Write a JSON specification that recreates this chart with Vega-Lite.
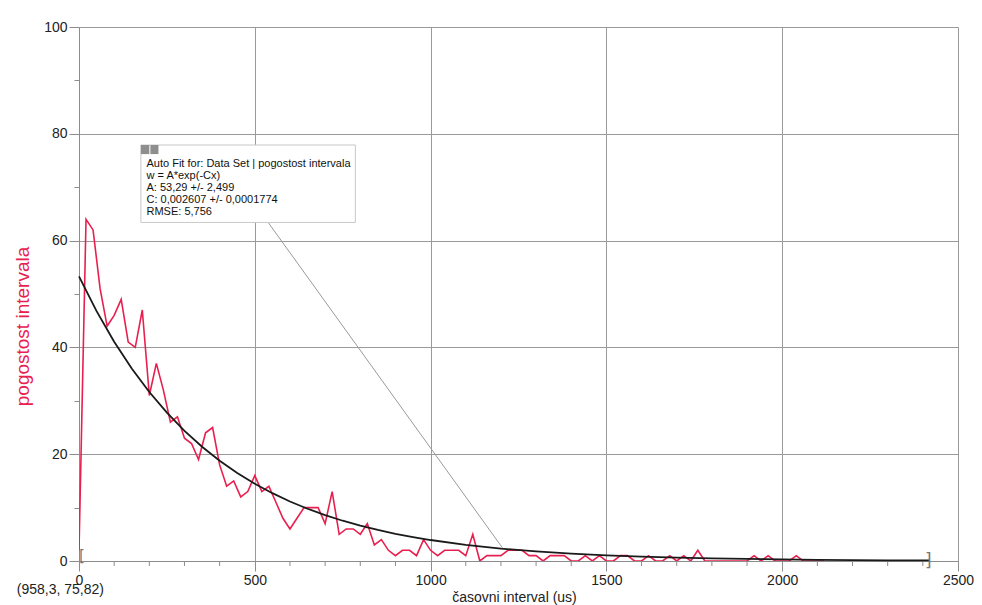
{
  "$schema": "https://vega.github.io/schema/vega-lite/v6.json",
  "autosize": {"type": "none"},
  "width": 879,
  "height": 534,
  "padding": {"left": 79, "top": 27, "right": 24, "bottom": 44},
  "background": "white",
  "config": {
    "view": {"stroke": null},
    "font": "Liberation Sans",
    "axis": {
      "labelFont": "Liberation Sans",
      "labelFontSize": 14,
      "labelColor": "#222222",
      "titleFont": "Liberation Sans",
      "titleFontWeight": "normal",
      "domainColor": "#8c8c8c",
      "tickColor": "#8c8c8c",
      "gridColor": "#9a9a9a",
      "gridWidth": 1,
      "labelPadding": 2,
      "labelOverlap": false
    }
  },
  "datasets": {
    "meas": [
      {"t": 0, "n": 2}, {"t": 20, "n": 64}, {"t": 40, "n": 62}, {"t": 60, "n": 51}, {"t": 80, "n": 44},
      {"t": 100, "n": 46}, {"t": 120, "n": 49}, {"t": 140, "n": 41}, {"t": 160, "n": 40}, {"t": 180, "n": 47},
      {"t": 200, "n": 31}, {"t": 220, "n": 37}, {"t": 240, "n": 32}, {"t": 260, "n": 26}, {"t": 280, "n": 27},
      {"t": 300, "n": 23}, {"t": 320, "n": 22}, {"t": 340, "n": 19}, {"t": 360, "n": 24}, {"t": 380, "n": 25},
      {"t": 400, "n": 18}, {"t": 420, "n": 14}, {"t": 440, "n": 15}, {"t": 460, "n": 12}, {"t": 480, "n": 13},
      {"t": 500, "n": 16}, {"t": 520, "n": 13}, {"t": 540, "n": 14}, {"t": 560, "n": 11}, {"t": 580, "n": 8},
      {"t": 600, "n": 6}, {"t": 620, "n": 8}, {"t": 640, "n": 10}, {"t": 660, "n": 10}, {"t": 680, "n": 10},
      {"t": 700, "n": 7}, {"t": 720, "n": 13}, {"t": 740, "n": 5}, {"t": 760, "n": 6}, {"t": 780, "n": 6},
      {"t": 800, "n": 5}, {"t": 820, "n": 7}, {"t": 840, "n": 3}, {"t": 860, "n": 4}, {"t": 880, "n": 2},
      {"t": 900, "n": 1}, {"t": 920, "n": 2}, {"t": 940, "n": 2}, {"t": 960, "n": 1}, {"t": 980, "n": 4},
      {"t": 1000, "n": 2}, {"t": 1020, "n": 1}, {"t": 1040, "n": 2}, {"t": 1060, "n": 2}, {"t": 1080, "n": 2},
      {"t": 1100, "n": 1}, {"t": 1120, "n": 5}, {"t": 1140, "n": 0}, {"t": 1160, "n": 1}, {"t": 1180, "n": 1},
      {"t": 1200, "n": 1}, {"t": 1220, "n": 2}, {"t": 1240, "n": 2}, {"t": 1260, "n": 2}, {"t": 1280, "n": 1},
      {"t": 1300, "n": 1}, {"t": 1320, "n": 0}, {"t": 1340, "n": 1}, {"t": 1360, "n": 1}, {"t": 1380, "n": 1},
      {"t": 1400, "n": 0}, {"t": 1420, "n": 0}, {"t": 1440, "n": 1}, {"t": 1460, "n": 0}, {"t": 1480, "n": 1},
      {"t": 1500, "n": 0}, {"t": 1520, "n": 0}, {"t": 1540, "n": 1}, {"t": 1560, "n": 1}, {"t": 1580, "n": 0},
      {"t": 1600, "n": 0}, {"t": 1620, "n": 1}, {"t": 1640, "n": 0}, {"t": 1660, "n": 0}, {"t": 1680, "n": 1},
      {"t": 1700, "n": 0}, {"t": 1720, "n": 1}, {"t": 1740, "n": 0}, {"t": 1760, "n": 2}, {"t": 1780, "n": 0},
      {"t": 1800, "n": 0}, {"t": 1820, "n": 0}, {"t": 1840, "n": 0}, {"t": 1860, "n": 0}, {"t": 1880, "n": 0},
      {"t": 1900, "n": 0}, {"t": 1920, "n": 1}, {"t": 1940, "n": 0}, {"t": 1960, "n": 1}, {"t": 1980, "n": 0},
      {"t": 2000, "n": 0}, {"t": 2020, "n": 0}, {"t": 2040, "n": 1}, {"t": 2060, "n": 0}, {"t": 2080, "n": 0},
      {"t": 2100, "n": 0}, {"t": 2120, "n": 0}
    ],
    "fit": [
      {"t": 0, "w": 53.29}, {"t": 50, "w": 46.78}, {"t": 100, "w": 41.06}, {"t": 150, "w": 36.04},
      {"t": 200, "w": 31.64}, {"t": 250, "w": 27.77}, {"t": 300, "w": 24.38}, {"t": 350, "w": 21.40},
      {"t": 400, "w": 18.78}, {"t": 450, "w": 16.49}, {"t": 500, "w": 14.47}, {"t": 550, "w": 12.70},
      {"t": 600, "w": 11.15}, {"t": 650, "w": 9.79}, {"t": 700, "w": 8.59}, {"t": 750, "w": 7.54},
      {"t": 800, "w": 6.62}, {"t": 850, "w": 5.81}, {"t": 900, "w": 5.10}, {"t": 950, "w": 4.48},
      {"t": 1000, "w": 3.93}, {"t": 1100, "w": 3.03}, {"t": 1200, "w": 2.33}, {"t": 1300, "w": 1.80},
      {"t": 1400, "w": 1.39}, {"t": 1500, "w": 1.07}, {"t": 1600, "w": 0.82}, {"t": 1700, "w": 0.63},
      {"t": 1800, "w": 0.49}, {"t": 1900, "w": 0.38}, {"t": 2000, "w": 0.29}, {"t": 2100, "w": 0.22},
      {"t": 2200, "w": 0.17}, {"t": 2300, "w": 0.13}, {"t": 2420, "w": 0.10}
    ],
    "minorx": [
      {"t": 100}, {"t": 200}, {"t": 300}, {"t": 400}, {"t": 600}, {"t": 700}, {"t": 800}, {"t": 900},
      {"t": 1100}, {"t": 1200}, {"t": 1300}, {"t": 1400}, {"t": 1600}, {"t": 1700}, {"t": 1800}, {"t": 1900},
      {"t": 2100}, {"t": 2200}, {"t": 2300}, {"t": 2400}
    ]
  },
  "layer": [
    {
      "data": {"name": "meas"},
      "mark": {"type": "line", "color": "#e8204f", "strokeWidth": 1.6, "clip": true},
      "encoding": {
        "x": {
          "field": "t", "type": "quantitative",
          "scale": {"domain": [0, 2500], "nice": false, "zero": false},
          "axis": {
            "values": [0, 500, 1000, 1500, 2000, 2500],
            "format": "d",
            "tickSize": 10,
            "labelFlush": false,
            "labelOverlap": false,
            "title": "časovni interval (us)",
            "titleFontSize": 14,
            "titleColor": "#222222",
            "titleX": 435,
            "titleY": 36,
            "titleBaseline": "middle",
            "titleAlign": "center"
          }
        },
        "y": {
          "field": "n", "type": "quantitative",
          "scale": {"domain": [0, 100], "nice": false},
          "axis": {
            "values": [0,10,20,30,40,50,60,70,80,90,100],
            "format": "d",
            "labelOpacity": {"condition": {"test": "datum.value % 20 === 0", "value": 1}, "value": 0},
            "tickSize": {"condition": {"test": "datum.value % 20 === 0", "value": 10}, "value": 5},
            "gridOpacity": {"condition": {"test": "datum.value % 20 === 0", "value": 1}, "value": 0},
            "labelFlush": false,
            "labelOverlap": false,
            "title": "pogostost intervala",
            "titleFontSize": 19,
            "titleColor": "#e8204f",
            "titleAngle": -90,
            "titleX": -57,
            "titleY": 299,
            "titleAlign": "center",
            "titleBaseline": "middle"
          }
        }
      }
    },
    {
      "data": {"name": "minorx"},
      "mark": {"type": "rule", "color": "#8c8c8c", "strokeWidth": 1, "clip": false},
      "encoding": {
        "x": {"field": "t", "type": "quantitative"},
        "y": {"datum": 0},
        "y2": {"datum": -0.94}
      }
    },
    {
      "data": {"name": "fit"},
      "mark": {"type": "line", "color": "#1a1a1a", "strokeWidth": 1.8},
      "encoding": {
        "x": {"field": "t", "type": "quantitative"},
        "y": {"field": "w", "type": "quantitative"}
      }
    },
    {
      "data": {"values": [{}]},
      "mark": {"type": "rule", "color": "#9a9a9a", "strokeWidth": 1},
      "encoding": {
        "x": {"datum": 537},
        "y": {"datum": 63.5},
        "x2": {"datum": 1205},
        "y2": {"datum": 2.4}
      }
    },
    {
      "data": {"values": [{}]},
      "mark": {"type": "rect", "fill": "white", "stroke": "#c8c8c8", "strokeWidth": 1},
      "encoding": {
        "x": {"datum": 176},
        "x2": {"datum": 786},
        "y": {"datum": 77.9},
        "y2": {"datum": 63.4}
      }
    },
    {
      "data": {"values": [{}]},
      "mark": {"type": "rect", "fill": "#8e8e8e"},
      "encoding": {
        "x": {"datum": 176},
        "x2": {"datum": 200},
        "y": {"datum": 77.9},
        "y2": {"datum": 76.2}
      }
    },
    {
      "data": {"values": [{}]},
      "mark": {"type": "rect", "fill": "#8e8e8e"},
      "encoding": {
        "x": {"datum": 203},
        "x2": {"datum": 226},
        "y": {"datum": 77.9},
        "y2": {"datum": 76.2}
      }
    },
    {
      "data": {"values": [{}]},
      "mark": {"type": "text", "align": "left", "baseline": "top", "font": "Liberation Sans", "fontSize": 11, "lineHeight": 12, "color": "#111111"},
      "encoding": {
        "x": {"datum": 192},
        "y": {"datum": 75.4},
        "text": {"value": ["Auto Fit for: Data Set | pogostost intervala", "w = A*exp(-Cx)", "A: 53,29 +/- 2,499", "C: 0,002607 +/- 0,0001774", "RMSE: 5,756"]}
      }
    },
    {
      "data": {"values": [{}]},
      "mark": {"type": "text", "align": "left", "baseline": "middle", "font": "Liberation Sans", "fontSize": 14, "color": "#222222"},
      "encoding": {
        "x": {"datum": -177},
        "y": {"datum": -5.4},
        "text": {"value": "(958,3, 75,82)"}
      }
    },
    {
      "data": {"values": [{}]},
      "mark": {"type": "text", "align": "left", "baseline": "middle", "font": "DejaVu Sans", "fontSize": 15, "color": "#777777"},
      "encoding": {
        "x": {"datum": 0},
        "y": {"datum": 1},
        "text": {"value": "["}
      }
    },
    {
      "data": {"values": [{}]},
      "mark": {"type": "text", "align": "right", "baseline": "middle", "font": "DejaVu Sans", "fontSize": 17, "color": "#777777"},
      "encoding": {
        "x": {"datum": 2425},
        "y": {"datum": 0},
        "text": {"value": "]"}
      }
    }
  ]
}
